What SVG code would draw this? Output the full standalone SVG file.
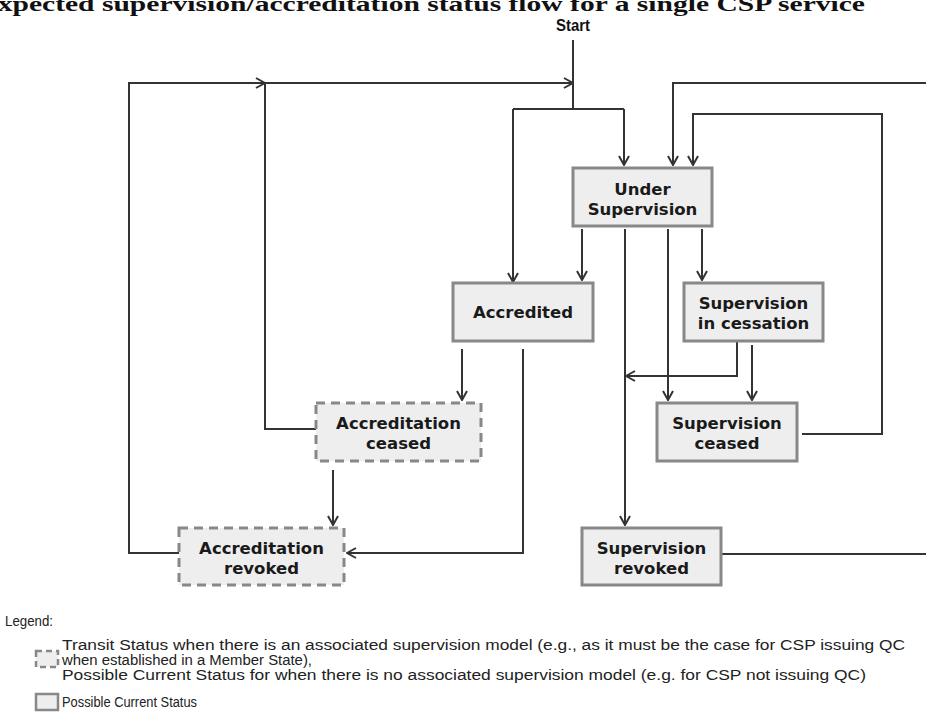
<svg xmlns="http://www.w3.org/2000/svg" width="926" height="725" viewBox="0 0 926 725">
<defs>
<style>
.box{fill:#eeeeee;stroke:#888888;stroke-width:3}
.dash{fill:#eeeeee;stroke:#888888;stroke-width:3;stroke-dasharray:9 6}
.lbl{font-family:"DejaVu Sans",Verdana,sans-serif;font-weight:bold;font-size:16.5px;fill:#1a1a1a;text-anchor:middle}
.con{fill:none;stroke:#333333;stroke-width:2}
.leg{font-family:"Liberation Sans",Arial,sans-serif;font-size:14px;fill:#222222}
</style>
<marker id="ah" viewBox="0 0 12 12" refX="11" refY="6" markerWidth="12" markerHeight="12" markerUnits="userSpaceOnUse" orient="auto">
<path d="M2,1 L11,6 L2,11" fill="none" stroke="#333333" stroke-width="2"/>
</marker>
</defs>
<rect width="926" height="725" fill="#ffffff"/>
<text x="-22" y="11" font-family="Liberation Serif,'Times New Roman',serif" font-weight="bold" font-size="22" fill="#111111" textLength="887" lengthAdjust="spacingAndGlyphs">Expected supervision/accreditation status flow for a single CSP service</text>
<text x="573" y="31" font-family="Liberation Sans,Arial,sans-serif" font-weight="bold" font-size="16" fill="#111111" text-anchor="middle" textLength="34" lengthAdjust="spacingAndGlyphs">Start</text>
<g id="connectors">
<path class="con" d="M573,40 V109 M513,109 H624"/>
<path class="con" marker-end="url(#ah)" d="M513,109 V282"/>
<path class="con" marker-end="url(#ah)" d="M624,109 V165"/>
<path class="con" marker-end="url(#ah)" d="M179,553 H129 V83 H265"/>
<path class="con" marker-end="url(#ah)" d="M316,429 H265 V83 H573"/>
<path class="con" marker-end="url(#ah)" d="M582,229 V280"/>
<path class="con" marker-end="url(#ah)" d="M625,229 V525"/>
<path class="con" marker-end="url(#ah)" d="M668,229 V400"/>
<path class="con" marker-end="url(#ah)" d="M702,229 V280"/>
<path class="con" marker-end="url(#ah)" d="M752,345 V400"/>
<path class="con" marker-end="url(#ah)" d="M737,342 V376 H626"/>
<path class="con" marker-end="url(#ah)" d="M802,434 H882 V114 H693 V165"/>
<path class="con" marker-end="url(#ah)" d="M721,554 H930 V83 H673 V165"/>
<path class="con" marker-end="url(#ah)" d="M462,349 V400"/>
<path class="con" marker-end="url(#ah)" d="M523,349 V553 H347"/>
<path class="con" marker-end="url(#ah)" d="M333,470 V525"/>
</g>
<g id="under-supervision">
<rect class="box" x="573" y="168" width="139" height="58"/>
<text class="lbl" x="642.5" y="195">Under</text>
<text class="lbl" x="642.5" y="215">Supervision</text>
</g>
<g id="accredited">
<rect class="box" x="453" y="283" width="140" height="58"/>
<text class="lbl" x="523" y="318">Accredited</text>
</g>
<g id="supervision-in-cessation">
<rect class="box" x="684" y="283" width="139" height="58"/>
<text class="lbl" x="753.5" y="309">Supervision</text>
<text class="lbl" x="753.5" y="329">in cessation</text>
</g>
<g id="accreditation-ceased">
<rect class="dash" x="316" y="403" width="165" height="58"/>
<text class="lbl" x="398.5" y="429">Accreditation</text>
<text class="lbl" x="398.5" y="449">ceased</text>
</g>
<g id="supervision-ceased">
<rect class="box" x="657" y="403" width="140" height="58"/>
<text class="lbl" x="727" y="429">Supervision</text>
<text class="lbl" x="727" y="449">ceased</text>
</g>
<g id="accreditation-revoked">
<rect class="dash" x="179" y="528" width="165" height="57"/>
<text class="lbl" x="261.5" y="554">Accreditation</text>
<text class="lbl" x="261.5" y="574">revoked</text>
</g>
<g id="supervision-revoked">
<rect class="box" x="582" y="528" width="139" height="57"/>
<text class="lbl" x="651.5" y="554">Supervision</text>
<text class="lbl" x="651.5" y="574">revoked</text>
</g>
<g id="legend">
<text class="leg" x="5" y="626" textLength="48" lengthAdjust="spacingAndGlyphs">Legend:</text>
<rect x="36" y="651" width="22" height="16" fill="#eeeeee" stroke="#888888" stroke-width="2.5" stroke-dasharray="6 4"/>
<text class="leg" x="62" y="650" textLength="843" lengthAdjust="spacingAndGlyphs">Transit Status when there is an associated supervision model (e.g., as it must be the case for CSP issuing QC</text>
<text class="leg" x="62" y="665" textLength="250" lengthAdjust="spacingAndGlyphs">when established in a Member State),</text>
<text class="leg" x="62" y="680" textLength="804" lengthAdjust="spacingAndGlyphs">Possible Current  Status for when there is no associated supervision model (e.g. for CSP not issuing QC)</text>
<rect x="36" y="694" width="22" height="16" fill="#eeeeee" stroke="#888888" stroke-width="2.5"/>
<text class="leg" x="62" y="707" textLength="135" lengthAdjust="spacingAndGlyphs">Possible Current Status</text>
</g>
</svg>
